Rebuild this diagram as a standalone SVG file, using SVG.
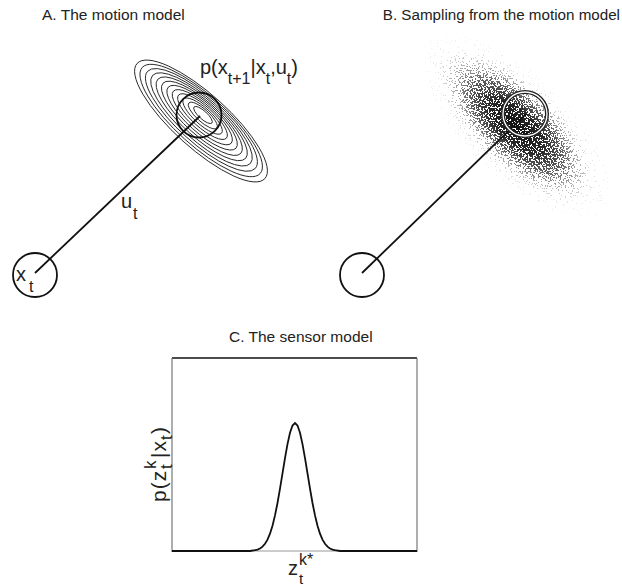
<svg xmlns="http://www.w3.org/2000/svg" width="622" height="586" viewBox="0 0 622 586">
<style>
text{font-family:"Liberation Sans",Arial,sans-serif;fill:#222}
.title{font-size:15.5px}
.lbl{font-size:20px}
.sub{font-size:16px}
.ln{stroke:#111;stroke-width:1.8;fill:none}
.node{stroke:#111;stroke-width:1.8;fill:none}
.ct{fill:none;stroke:#222;stroke-width:0.9}
</style>
<defs>
<radialGradient id="dens">
<stop offset="0" stop-color="#000" stop-opacity="1"/>
<stop offset="0.3" stop-color="#000" stop-opacity="0.9"/>
<stop offset="0.5" stop-color="#000" stop-opacity="0.66"/>
<stop offset="0.65" stop-color="#000" stop-opacity="0.36"/>
<stop offset="0.8" stop-color="#000" stop-opacity="0.13"/>
<stop offset="1" stop-color="#000" stop-opacity="0.035"/>
</radialGradient>
<filter id="speckle" x="380" y="20" width="242" height="230" filterUnits="userSpaceOnUse" color-interpolation-filters="sRGB">
<feTurbulence type="fractalNoise" baseFrequency="0.6" numOctaves="2" seed="7" result="noise"/>
<feColorMatrix in="noise" type="matrix" values="0 0 0 0 0  0 0 0 0 0  0 0 0 0 0  1 0 0 0 0" result="n"/>
<feComposite in="SourceGraphic" in2="n" operator="arithmetic" k1="0" k2="0.32" k3="1" k4="-0.222" result="sum"/>
<feComponentTransfer in="sum" result="thr"><feFuncA type="discrete" tableValues="0 1"/></feComponentTransfer>
<feComposite in="thr" in2="SourceGraphic" operator="in" result="clip"/>
<feColorMatrix in="clip" type="matrix" values="0 0 0 0 0.07  0 0 0 0 0.07  0 0 0 0 0.07  0 0 0 1 0"/>
</filter>
</defs>

<text class="title" x="42" y="20">A. The motion model</text>
<text class="title" x="620" y="20" text-anchor="end" style="font-size:15.2px">B. Sampling from the motion model</text>
<text class="title" x="229" y="342">C. The sensor model</text>

<g id="motion-contours">
<g transform="translate(203,115) rotate(42)"><ellipse class="ct" rx="12" ry="4"/></g>
<g transform="translate(202.8,115.5) rotate(42)"><ellipse class="ct" rx="18.7" ry="6.1"/></g>
<g transform="translate(202.6,116.1) rotate(42)"><ellipse class="ct" rx="25.5" ry="8.2"/></g>
<g transform="translate(202.5,116.6) rotate(42)"><ellipse class="ct" rx="32.2" ry="10.3"/></g>
<g transform="translate(202.3,117.2) rotate(42)"><ellipse class="ct" rx="38.9" ry="12.4"/></g>
<g transform="translate(202.1,117.7) rotate(42)"><ellipse class="ct" rx="45.6" ry="14.5"/></g>
<g transform="translate(201.9,118.3) rotate(42)"><ellipse class="ct" rx="52.4" ry="16.5"/></g>
<g transform="translate(201.7,118.8) rotate(42)"><ellipse class="ct" rx="59.1" ry="18.6"/></g>
<g transform="translate(201.5,119.4) rotate(42)"><ellipse class="ct" rx="65.8" ry="20.7"/></g>
<g transform="translate(201.4,119.9) rotate(42)"><ellipse class="ct" rx="72.5" ry="22.8"/></g>
<g transform="translate(201.2,120.5) rotate(42)"><ellipse class="ct" rx="79.3" ry="24.9"/></g>
<g transform="translate(201,121) rotate(42)"><ellipse class="ct" rx="86" ry="27"/></g>
</g>

<g id="sample-cloud" filter="url(#speckle)">
<g transform="translate(516,126) rotate(44)"><ellipse rx="122" ry="52" fill="url(#dens)"/></g>
</g>

<g id="connectors">
<line class="ln" x1="35" y1="273" x2="200" y2="116"/>
<line class="ln" x1="362" y1="273" x2="526" y2="114"/>
</g>

<g id="xt-node">
<circle class="node" cx="35" cy="275" r="22"/>
<text class="lbl" x="16" y="281">x</text>
<text class="sub" x="29" y="292">t</text>
</g>

<g id="xt1-node">
<circle class="node" cx="199" cy="115" r="22.5"/>
</g>

<g id="ut-label">
<text class="lbl" x="121" y="208">u</text>
<text class="sub" x="133" y="219">t</text>
</g>

<g id="p-label">
<text class="lbl" x="200" y="74">p(x<tspan class="sub" dy="10">t+1</tspan><tspan dy="-10">|x</tspan><tspan class="sub" dy="10">t</tspan><tspan dy="-10">,u</tspan><tspan class="sub" dy="10">t</tspan><tspan dy="-10">)</tspan></text>
</g>

<g id="b-start-node">
<circle class="node" cx="362" cy="275" r="22"/>
</g>

<g id="b-end-node">
<circle cx="525" cy="114" r="22" fill="none" stroke="#222" stroke-width="4"/>
<circle cx="525" cy="114" r="22" fill="none" stroke="#fff" stroke-width="1.3"/>
</g>

<g id="sensor-plot">
<line x1="172" y1="358" x2="417" y2="358" stroke="#111" stroke-width="1.5"/>
<line x1="172" y1="358" x2="172" y2="552" stroke="#777" stroke-width="1.2"/>
<line x1="417" y1="358" x2="417" y2="552" stroke="#777" stroke-width="1.2"/>
<line x1="172" y1="551" x2="417" y2="551" stroke="#999" stroke-width="1.2"/>
<polyline class="ln" points="172,551 250,551 255,550.2 257.5,549.6 260,548.5 262.5,546.6 265,543.8 267.5,539.6 270,533.7 272.5,525.7 275,515.4 277.5,503 280,488.7 282.5,473.4 285,458.1 287.5,444.1 290,432.8 292.5,425.5 295,423 297.5,425.5 300,432.8 302.5,444.1 305,458.1 307.5,473.4 310,488.7 312.5,503 315,515.4 317.5,525.7 320,533.7 322.5,539.6 325,543.8 327.5,546.6 330,548.5 332.5,549.6 335,550.2 340,551 417,551"/>
<g transform="translate(166,502) rotate(-90)">
<text class="lbl" x="0" y="0" style="font-size:21px;letter-spacing:1px">p(z</text>
<text class="sub" x="33" y="-10" style="font-size:17px">k</text>
<text class="sub" x="33" y="6" style="font-size:17px">t</text>
<text class="lbl" x="44" y="0" style="font-size:21px;letter-spacing:1px">|x</text>
<text class="sub" x="62" y="6" style="font-size:17px">t</text>
<text class="lbl" x="68" y="0" style="font-size:21px">)</text>
</g>
<text class="lbl" x="288" y="575">z</text>
<text class="sub" x="299" y="565">k*</text>
<text class="sub" x="299" y="584" style="font-size:15px">t</text>
</g>
</svg>
